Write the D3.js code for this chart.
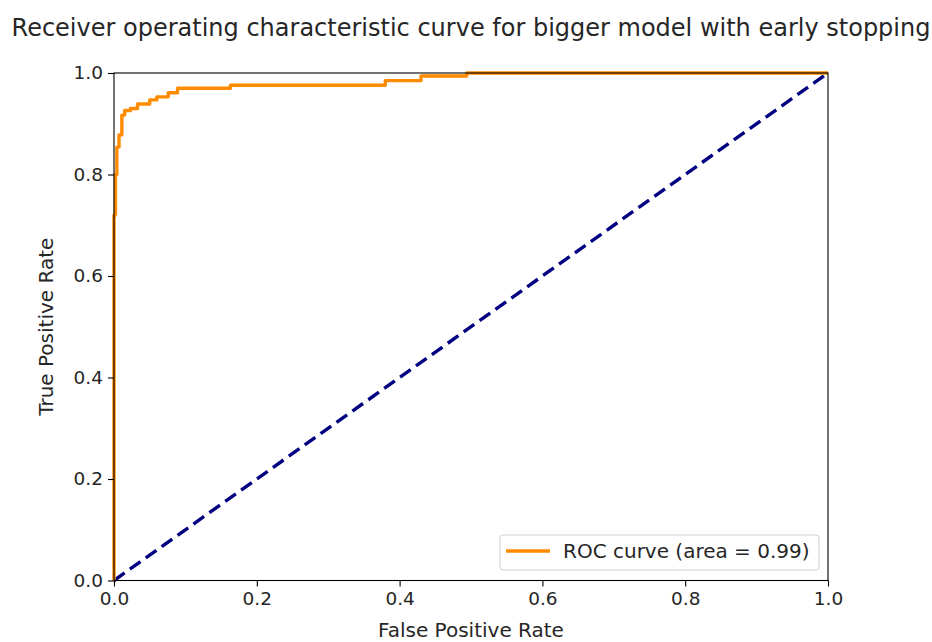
<!DOCTYPE html>
<html>
<head>
<meta charset="utf-8">
<script src="https://cdn.jsdelivr.net/npm/d3@7"></script>
<style>
  html, body { margin: 0; padding: 0; background: #fff; }
  svg { display: block; font-family: "DejaVu Sans", sans-serif; }
</style>
</head>
<body>
<svg id="chart" width="932" height="642"></svg>
<script>
// ---- data ----
const fpr = [0, 0, 0.002, 0.002, 0.004, 0.004, 0.007, 0.007, 0.011, 0.011, 0.015, 0.015,
             0.023, 0.023, 0.033, 0.033, 0.050, 0.050, 0.060, 0.060, 0.076, 0.076,
             0.089, 0.089, 0.163, 0.163, 0.380, 0.380, 0.430, 0.430, 0.494, 0.494, 1.0];
const tpr = [0, 0.72, 0.72, 0.80, 0.80, 0.854, 0.854, 0.878, 0.878, 0.917, 0.917, 0.926,
             0.926, 0.930, 0.930, 0.939, 0.939, 0.947, 0.947, 0.953, 0.953, 0.961,
             0.961, 0.970, 0.970, 0.976, 0.976, 0.985, 0.985, 0.994, 0.994, 1.0, 1.0];
const chanceX = [0, 1];
const chanceY = [0, 1];
const xTicks = [0, 0.2, 0.4, 0.6, 0.8, 1.0];
const yTicks = [0, 0.2, 0.4, 0.6, 0.8, 1.0];
const titleText = "Receiver operating characteristic curve for bigger model with early stopping";
const xLabel = "False Positive Rate";
const yLabel = "True Positive Rate";
const legendLabel = "ROC curve (area = 0.99)";

// ---- layout ----
const L = 114, R = 828, T = 73, B = 580.5;
const svg = d3.select("#chart");
const x = d3.scaleLinear().domain([0, 1]).range([L, R]);
const y = d3.scaleLinear().domain([0, 1]).range([B, T]);
const fsTick = 18.5;
const fsLab = 20;

// curves
const roc = fpr.map((v, i) => [v, tpr[i]]);
const chance = chanceX.map((v, i) => [v, chanceY[i]]);
const line = d3.line().x(d => x(d[0])).y(d => y(d[1]));

svg.append("path").datum(chance).attr("d", line)
  .attr("fill", "none").attr("stroke", "#000080").attr("stroke-width", 3.4)
  .attr("stroke-dasharray", "13,6.5");

svg.append("path").datum(roc).attr("d", line)
  .attr("fill", "none").attr("stroke", "#ff8c00").attr("stroke-width", 3.4)
  .attr("stroke-linejoin", "round").attr("stroke-linecap", "butt");

// axes
const xAxis = d3.axisBottom(x).tickValues(xTicks).tickFormat(d3.format(".1f")).tickSize(6).tickPadding(5);
const yAxis = d3.axisLeft(y).tickValues(yTicks).tickFormat(d3.format(".1f")).tickSize(6).tickPadding(5);

const gx = svg.append("g").attr("transform", `translate(0,${B})`).call(xAxis);
const gy = svg.append("g").attr("transform", `translate(${L},0)`).call(yAxis);
[gx, gy].forEach(g => {
  g.select(".domain").remove();
  g.selectAll("line").attr("stroke", "#000").attr("stroke-width", 1.1);
  g.selectAll("text").attr("fill", "#262626").style("font-size", fsTick + "px")
    .style("font-family", '"DejaVu Sans", sans-serif');
});

// frame
svg.append("rect").attr("x", L).attr("y", T).attr("width", R - L).attr("height", B - T)
  .attr("fill", "none").attr("stroke", "#000").attr("stroke-width", 1.1);

// title & labels
svg.append("text").attr("x", (L + R) / 2).attr("y", 35.5).attr("text-anchor", "middle")
  .style("font-size", "24px").attr("fill", "#262626").text(titleText);
svg.append("text").attr("x", (L + R) / 2).attr("y", 637).attr("text-anchor", "middle")
  .style("font-size", fsLab + "px").attr("fill", "#262626").text(xLabel);
svg.append("text").attr("transform", `translate(53,${(T + B) / 2}) rotate(-90)`)
  .attr("text-anchor", "middle").style("font-size", fsLab + "px").attr("fill", "#262626").text(yLabel);

// legend
const lg = svg.append("g");
lg.append("rect").attr("x", 500).attr("y", 535).attr("width", 319).attr("height", 35)
  .attr("rx", 3).attr("fill", "#fff").attr("fill-opacity", 0.8)
  .attr("stroke", "#d0d0d0").attr("stroke-width", 1);
lg.append("line").attr("x1", 506).attr("x2", 550).attr("y1", 551).attr("y2", 551)
  .attr("stroke", "#ff8c00").attr("stroke-width", 3.4);
lg.append("text").attr("x", 563).attr("y", 558).style("font-size", fsLab + "px")
  .attr("fill", "#262626").text(legendLabel);
</script>
</body>
</html>
